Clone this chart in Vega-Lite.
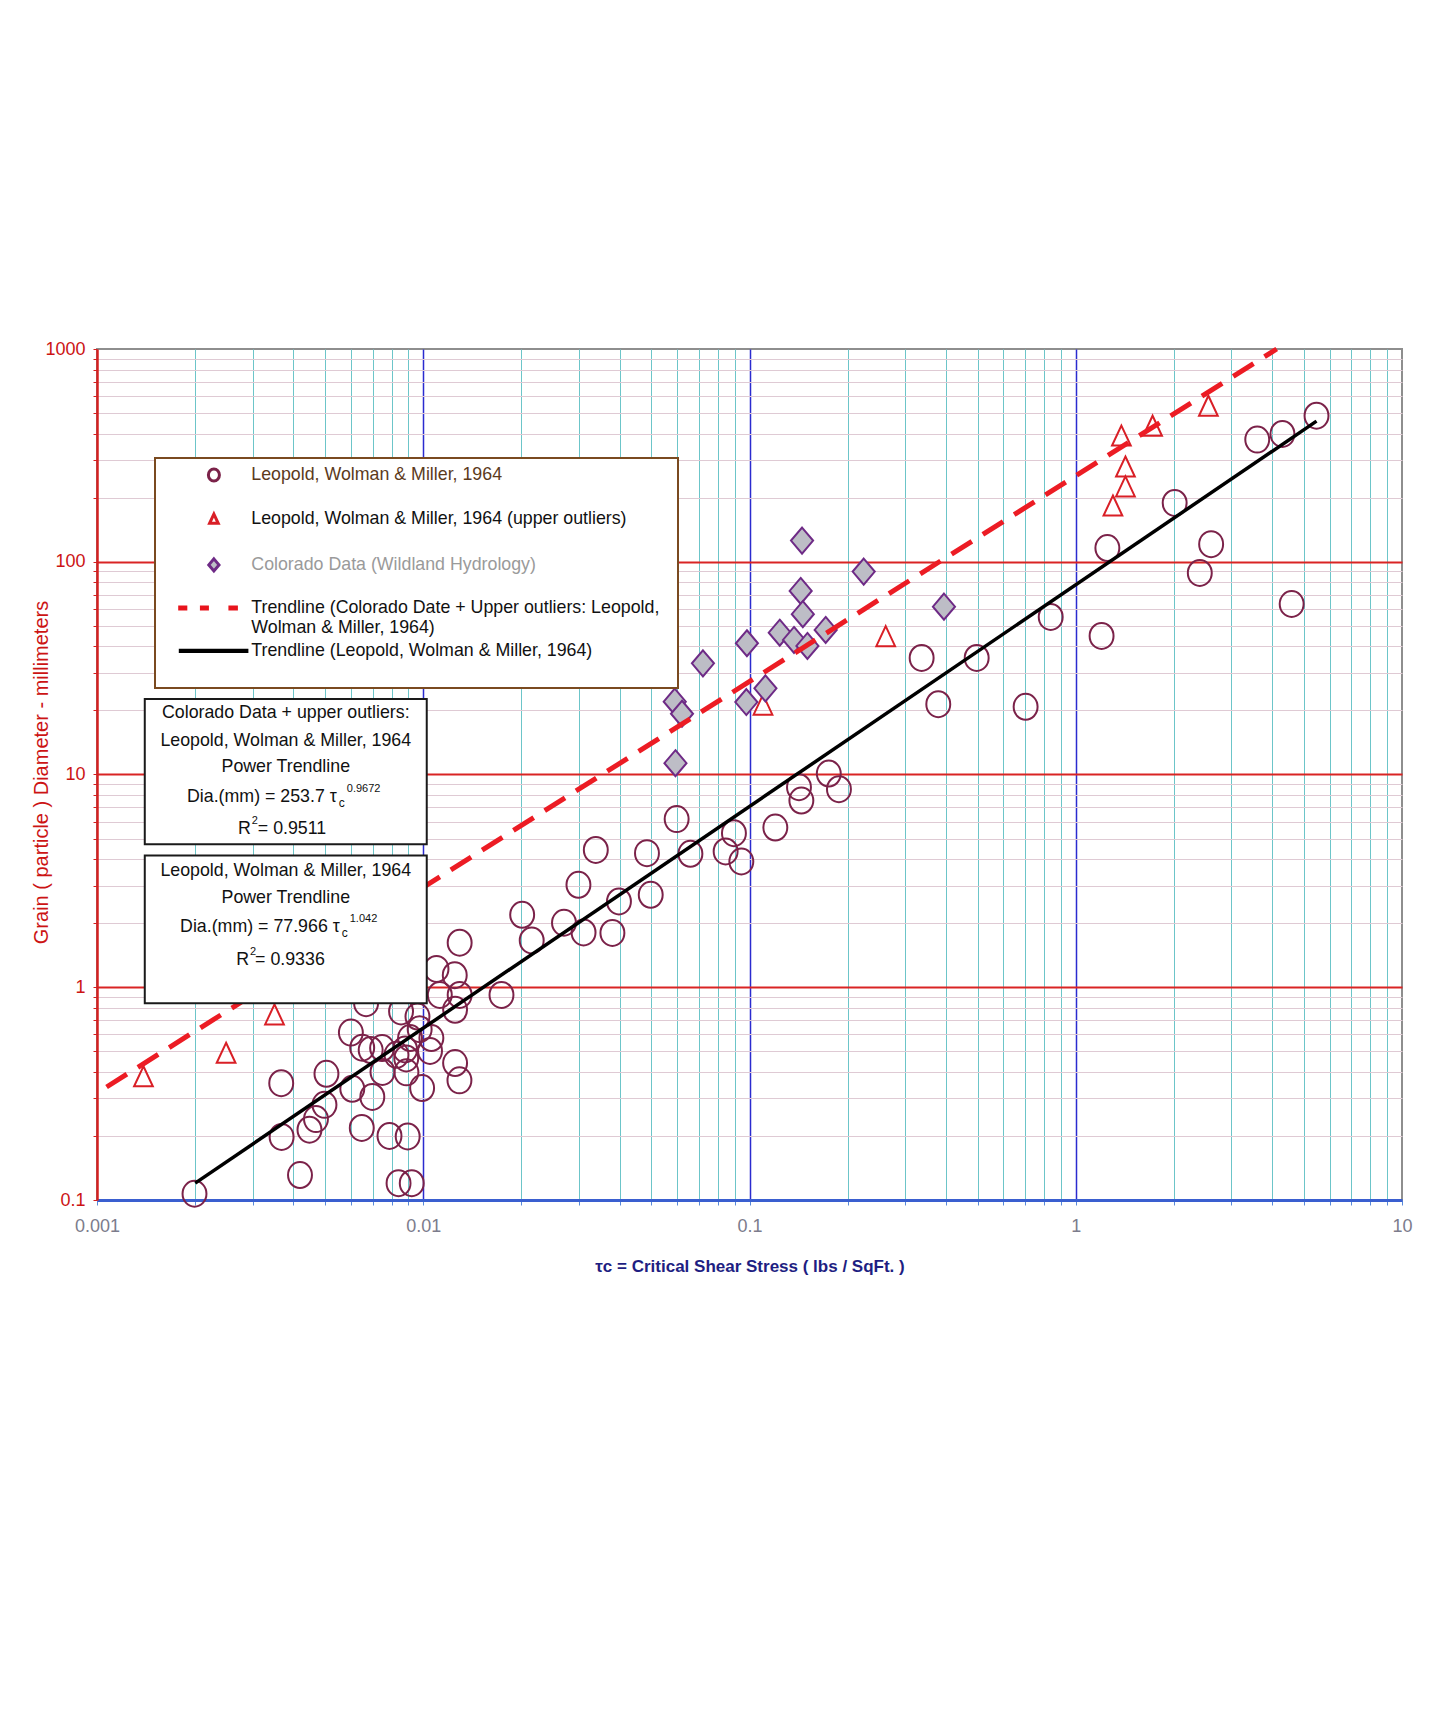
{
  "$schema": "https://vega.github.io/schema/vega-lite/v6.json",
  "width": 1305,
  "height": 851,
  "autosize": {"type": "none"},
  "padding": {"left": 97, "top": 349, "right": 40, "bottom": 531},
  "background": "white",
  "config": {
    "font": "Liberation Sans",
    "view": {"stroke": "#8e8e8e", "strokeWidth": 2},
    "legend": {
      "orient": "none",
      "legendX": 58,
      "legendY": 109,
      "padding": 8,
      "strokeColor": "#7a4a20",
      "strokeWidth": 2,
      "fillColor": "white",
      "symbolSize": 144,
      "symbolStrokeWidth": 3,
      "symbolFillColor": "white",
      "symbolOffset": 42,
      "labelOffset": 28.5,
      "labelFont": "Liberation Sans",
      "labelFontSize": 17.8,
      "labelLimit": 800,
      "rowPadding": 4,
      "titleOrient": "right",
      "titleFontSize": 16,
      "titlePadding": 6,
      "titleColor": "transparent",
      "symbolOpacity": 1
    }
  },
  "layer": [
    {
      "data": {"values": [
        {"series": "Leopold, Wolman & Miller, 1964", "tau": 0.00199, "dia": 0.107},
        {"series": "Leopold, Wolman & Miller, 1964", "tau": 0.00419, "dia": 0.131},
        {"series": "Leopold, Wolman & Miller, 1964", "tau": 0.00368, "dia": 0.198},
        {"series": "Leopold, Wolman & Miller, 1964", "tau": 0.00367, "dia": 0.354},
        {"series": "Leopold, Wolman & Miller, 1964", "tau": 0.00448, "dia": 0.214},
        {"series": "Leopold, Wolman & Miller, 1964", "tau": 0.00469, "dia": 0.240},
        {"series": "Leopold, Wolman & Miller, 1964", "tau": 0.00498, "dia": 0.280},
        {"series": "Leopold, Wolman & Miller, 1964", "tau": 0.00505, "dia": 0.392},
        {"series": "Leopold, Wolman & Miller, 1964", "tau": 0.00606, "dia": 0.333},
        {"series": "Leopold, Wolman & Miller, 1964", "tau": 0.00648, "dia": 0.218},
        {"series": "Leopold, Wolman & Miller, 1964", "tau": 0.00698, "dia": 0.305},
        {"series": "Leopold, Wolman & Miller, 1964", "tau": 0.00600, "dia": 0.612},
        {"series": "Leopold, Wolman & Miller, 1964", "tau": 0.00650, "dia": 0.520},
        {"series": "Leopold, Wolman & Miller, 1964", "tau": 0.00690, "dia": 0.507},
        {"series": "Leopold, Wolman & Miller, 1964", "tau": 0.00748, "dia": 0.518},
        {"series": "Leopold, Wolman & Miller, 1964", "tau": 0.00750, "dia": 0.400},
        {"series": "Leopold, Wolman & Miller, 1964", "tau": 0.00788, "dia": 0.200},
        {"series": "Leopold, Wolman & Miller, 1964", "tau": 0.00896, "dia": 0.199},
        {"series": "Leopold, Wolman & Miller, 1964", "tau": 0.00840, "dia": 0.120},
        {"series": "Leopold, Wolman & Miller, 1964", "tau": 0.00922, "dia": 0.120},
        {"series": "Leopold, Wolman & Miller, 1964", "tau": 0.00888, "dia": 0.398},
        {"series": "Leopold, Wolman & Miller, 1964", "tau": 0.00992, "dia": 0.336},
        {"series": "Leopold, Wolman & Miller, 1964", "tau": 0.01049, "dia": 0.502},
        {"series": "Leopold, Wolman & Miller, 1964", "tau": 0.00880, "dia": 0.510},
        {"series": "Leopold, Wolman & Miller, 1964", "tau": 0.00911, "dia": 0.577},
        {"series": "Leopold, Wolman & Miller, 1964", "tau": 0.00975, "dia": 0.635},
        {"series": "Leopold, Wolman & Miller, 1964", "tau": 0.00960, "dia": 0.728},
        {"series": "Leopold, Wolman & Miller, 1964", "tau": 0.00855, "dia": 0.770},
        {"series": "Leopold, Wolman & Miller, 1964", "tau": 0.00668, "dia": 0.842},
        {"series": "Leopold, Wolman & Miller, 1964", "tau": 0.00828, "dia": 0.481},
        {"series": "Leopold, Wolman & Miller, 1964", "tau": 0.00887, "dia": 0.463},
        {"series": "Leopold, Wolman & Miller, 1964", "tau": 0.01059, "dia": 0.577},
        {"series": "Leopold, Wolman & Miller, 1964", "tau": 0.01252, "dia": 0.440},
        {"series": "Leopold, Wolman & Miller, 1964", "tau": 0.01291, "dia": 0.365},
        {"series": "Leopold, Wolman & Miller, 1964", "tau": 0.01252, "dia": 0.783},
        {"series": "Leopold, Wolman & Miller, 1964", "tau": 0.01293, "dia": 0.920},
        {"series": "Leopold, Wolman & Miller, 1964", "tau": 0.01124, "dia": 0.920},
        {"series": "Leopold, Wolman & Miller, 1964", "tau": 0.01249, "dia": 1.14},
        {"series": "Leopold, Wolman & Miller, 1964", "tau": 0.01098, "dia": 1.22},
        {"series": "Leopold, Wolman & Miller, 1964", "tau": 0.01293, "dia": 1.62},
        {"series": "Leopold, Wolman & Miller, 1964", "tau": 0.01737, "dia": 0.920},
        {"series": "Leopold, Wolman & Miller, 1964", "tau": 0.0201, "dia": 2.19},
        {"series": "Leopold, Wolman & Miller, 1964", "tau": 0.0215, "dia": 1.66},
        {"series": "Leopold, Wolman & Miller, 1964", "tau": 0.0270, "dia": 2.01},
        {"series": "Leopold, Wolman & Miller, 1964", "tau": 0.0299, "dia": 3.03},
        {"series": "Leopold, Wolman & Miller, 1964", "tau": 0.0310, "dia": 1.81},
        {"series": "Leopold, Wolman & Miller, 1964", "tau": 0.0338, "dia": 4.42},
        {"series": "Leopold, Wolman & Miller, 1964", "tau": 0.0380, "dia": 1.80},
        {"series": "Leopold, Wolman & Miller, 1964", "tau": 0.0398, "dia": 2.53},
        {"series": "Leopold, Wolman & Miller, 1964", "tau": 0.0485, "dia": 4.27},
        {"series": "Leopold, Wolman & Miller, 1964", "tau": 0.0498, "dia": 2.72},
        {"series": "Leopold, Wolman & Miller, 1964", "tau": 0.0598, "dia": 6.17},
        {"series": "Leopold, Wolman & Miller, 1964", "tau": 0.0659, "dia": 4.24},
        {"series": "Leopold, Wolman & Miller, 1964", "tau": 0.0845, "dia": 4.35},
        {"series": "Leopold, Wolman & Miller, 1964", "tau": 0.0896, "dia": 5.30},
        {"series": "Leopold, Wolman & Miller, 1964", "tau": 0.0944, "dia": 3.90},
        {"series": "Leopold, Wolman & Miller, 1964", "tau": 0.120, "dia": 5.63},
        {"series": "Leopold, Wolman & Miller, 1964", "tau": 0.1418, "dia": 8.72},
        {"series": "Leopold, Wolman & Miller, 1964", "tau": 0.1442, "dia": 7.54},
        {"series": "Leopold, Wolman & Miller, 1964", "tau": 0.175, "dia": 10.1},
        {"series": "Leopold, Wolman & Miller, 1964", "tau": 0.188, "dia": 8.53},
        {"series": "Leopold, Wolman & Miller, 1964", "tau": 0.337, "dia": 35.3},
        {"series": "Leopold, Wolman & Miller, 1964", "tau": 0.379, "dia": 21.4},
        {"series": "Leopold, Wolman & Miller, 1964", "tau": 0.497, "dia": 35.3},
        {"series": "Leopold, Wolman & Miller, 1964", "tau": 0.702, "dia": 20.8},
        {"series": "Leopold, Wolman & Miller, 1964", "tau": 0.838, "dia": 55.0},
        {"series": "Leopold, Wolman & Miller, 1964", "tau": 1.20, "dia": 44.8},
        {"series": "Leopold, Wolman & Miller, 1964", "tau": 1.25, "dia": 116},
        {"series": "Leopold, Wolman & Miller, 1964", "tau": 2.01, "dia": 189},
        {"series": "Leopold, Wolman & Miller, 1964", "tau": 2.40, "dia": 88.6},
        {"series": "Leopold, Wolman & Miller, 1964", "tau": 2.60, "dia": 121},
        {"series": "Leopold, Wolman & Miller, 1964", "tau": 3.60, "dia": 375},
        {"series": "Leopold, Wolman & Miller, 1964", "tau": 4.30, "dia": 399},
        {"series": "Leopold, Wolman & Miller, 1964", "tau": 5.47, "dia": 486},
        {"series": "Leopold, Wolman & Miller, 1964", "tau": 4.59, "dia": 63.3},
        {"series": "Leopold, Wolman & Miller, 1964 (upper outliers)", "tau": 0.001388, "dia": 0.380},
        {"series": "Leopold, Wolman & Miller, 1964 (upper outliers)", "tau": 0.002487, "dia": 0.490},
        {"series": "Leopold, Wolman & Miller, 1964 (upper outliers)", "tau": 0.00350, "dia": 0.742},
        {"series": "Leopold, Wolman & Miller, 1964 (upper outliers)", "tau": 0.110, "dia": 21.2},
        {"series": "Leopold, Wolman & Miller, 1964 (upper outliers)", "tau": 0.2615, "dia": 44.5},
        {"series": "Leopold, Wolman & Miller, 1964 (upper outliers)", "tau": 1.30, "dia": 183},
        {"series": "Leopold, Wolman & Miller, 1964 (upper outliers)", "tau": 1.42, "dia": 225},
        {"series": "Leopold, Wolman & Miller, 1964 (upper outliers)", "tau": 1.42, "dia": 279},
        {"series": "Leopold, Wolman & Miller, 1964 (upper outliers)", "tau": 1.38, "dia": 390},
        {"series": "Leopold, Wolman & Miller, 1964 (upper outliers)", "tau": 1.72, "dia": 434},
        {"series": "Leopold, Wolman & Miller, 1964 (upper outliers)", "tau": 2.55, "dia": 539},
        {"series": "Colorado Data (Wildland Hydrology)", "tau": 0.1449, "dia": 125.7},
        {"series": "Colorado Data (Wildland Hydrology)", "tau": 0.2239, "dia": 89.9},
        {"series": "Colorado Data (Wildland Hydrology)", "tau": 0.3945, "dia": 61.5},
        {"series": "Colorado Data (Wildland Hydrology)", "tau": 0.1435, "dia": 72.9},
        {"series": "Colorado Data (Wildland Hydrology)", "tau": 0.1457, "dia": 56.7},
        {"series": "Colorado Data (Wildland Hydrology)", "tau": 0.1238, "dia": 46.4},
        {"series": "Colorado Data (Wildland Hydrology)", "tau": 0.1369, "dia": 42.9},
        {"series": "Colorado Data (Wildland Hydrology)", "tau": 0.1505, "dia": 40.2},
        {"series": "Colorado Data (Wildland Hydrology)", "tau": 0.1712, "dia": 47.8},
        {"series": "Colorado Data (Wildland Hydrology)", "tau": 0.0982, "dia": 41.4},
        {"series": "Colorado Data (Wildland Hydrology)", "tau": 0.0720, "dia": 33.3},
        {"series": "Colorado Data (Wildland Hydrology)", "tau": 0.1119, "dia": 25.4},
        {"series": "Colorado Data (Wildland Hydrology)", "tau": 0.0978, "dia": 21.9},
        {"series": "Colorado Data (Wildland Hydrology)", "tau": 0.0590, "dia": 22.0},
        {"series": "Colorado Data (Wildland Hydrology)", "tau": 0.0621, "dia": 19.3},
        {"series": "Colorado Data (Wildland Hydrology)", "tau": 0.0593, "dia": 11.3}
      ]},
      "mark": {"type": "point", "size": 676, "strokeWidth": 2, "opacity": 1},
      "encoding": {
        "x": {
          "field": "tau", "type": "quantitative",
          "scale": {"type": "log", "domain": [0.001, 10], "nice": false},
          "axis": {
            "values": [0.001,0.002,0.003,0.004,0.005,0.006,0.007,0.008,0.009,0.01,0.02,0.03,0.04,0.05,0.06,0.07,0.08,0.09,0.1,0.2,0.3,0.4,0.5,0.6,0.7,0.8,0.9,1,2,3,4,5,6,7,8,9,10],
            "grid": true,
            "gridColor": {"condition": [
              {"test": "datum.value == 0.001 || datum.value == 10", "value": "transparent"},
              {"test": "datum.value == 0.01 || datum.value == 0.1 || datum.value == 1", "value": "#2b2bcf"}
            ], "value": "#6cc5c9"},
            "gridWidth": {"condition": {"test": "datum.value == 0.01 || datum.value == 0.1 || datum.value == 1", "value": 1.5}, "value": 1},
            "domainColor": "#3a5fd0", "domainWidth": 3,
            "tickColor": "#5a8ad8", "tickSize": 5, "tickWidth": 1,
            "format": "~g",
            "labelExpr": "(datum.value == 0.001 || datum.value == 0.01 || datum.value == 0.1 || datum.value == 1 || datum.value == 10) ? datum.label : ''",
            "labelOverlap": false, "labelFlush": false,
            "labelColor": "#7c7c8c", "labelFont": "Liberation Sans", "labelFontSize": 18, "labelPadding": 12,
            "title": "τc = Critical Shear Stress ( lbs / SqFt. )",
            "titleColor": "#1e1e82", "titleFont": "Liberation Sans", "titleFontSize": 17, "titleFontWeight": "bold", "titlePadding": 23
          }
        },
        "y": {
          "field": "dia", "type": "quantitative",
          "scale": {"type": "log", "domain": [0.1, 1000], "nice": false},
          "axis": {
            "values": [0.1,0.2,0.3,0.4,0.5,0.6,0.7,0.8,0.9,1,2,3,4,5,6,7,8,9,10,20,30,40,50,60,70,80,90,100,200,300,400,500,600,700,800,900,1000],
            "grid": true,
            "gridColor": {"condition": [
              {"test": "datum.value == 0.1 || datum.value == 1000", "value": "transparent"},
              {"test": "datum.value == 1 || datum.value == 10 || datum.value == 100", "value": "#d92424"}
            ], "value": "#dfcad4"},
            "gridWidth": {"condition": {"test": "datum.value == 1 || datum.value == 10 || datum.value == 100", "value": 2}, "value": 1},
            "domainColor": "#d42020", "domainWidth": 2.5,
            "tickColor": "#d42020", "tickSize": 4, "tickWidth": 1,
            "format": "~g",
            "labelExpr": "(datum.value == 0.1 || datum.value == 1 || datum.value == 10 || datum.value == 100 || datum.value == 1000) ? datum.label : ''",
            "labelOverlap": false, "labelFlush": false,
            "labelColor": "#cc1414", "labelFont": "Liberation Sans", "labelFontSize": 18, "labelPadding": 8,
            "title": "Grain ( particle ) Diameter - millimeters",
            "titleColor": "#cc1414", "titleFont": "Liberation Sans", "titleFontSize": 20, "titleFontWeight": "normal",
            "titleX": -56, "titleY": 423, "titleAngle": 270, "titleBaseline": "middle", "titleAlign": "center"
          }
        },
        "color": {
          "field": "series", "type": "nominal",
          "scale": {
            "domain": ["Leopold, Wolman & Miller, 1964", "Leopold, Wolman & Miller, 1964 (upper outliers)", "Colorado Data (Wildland Hydrology)", "Trendline (Colorado Date + Upper outliers: Leopold, Wolman & Miller, 1964)", "Trendline (Leopold, Wolman & Miller, 1964)"],
            "range": ["#7b2249", "#d91f26", "#6e2a86", "#e8141c", "#000000"]
          },
          "legend": {
            "title": ".",
            "labelColor": {"expr": "datum.value == 'Leopold, Wolman & Miller, 1964' ? '#5c3a1c' : datum.value == 'Colorado Data (Wildland Hydrology)' ? '#9a9a9a' : '#111111'"},
            "labelExpr": "indexof(datum.label, 'Upper outliers') >= 0 ? ['Trendline (Colorado Date + Upper outliers: Leopold,', 'Wolman & Miller, 1964)'] : [datum.label, '']"
          }
        },
        "shape": {
          "field": "series", "type": "nominal",
          "scale": {
            "domain": ["Leopold, Wolman & Miller, 1964", "Leopold, Wolman & Miller, 1964 (upper outliers)", "Colorado Data (Wildland Hydrology)", "Trendline (Colorado Date + Upper outliers: Leopold, Wolman & Miller, 1964)", "Trendline (Leopold, Wolman & Miller, 1964)"],
            "range": [
              "M-0.92,0A0.92,1 0 1,0 0.92,0A0.92,1 0 1,0 -0.92,0Z",
              "M0,-0.8L0.72,0.74L-0.72,0.74Z",
              "M0,-1L0.85,0L0,1L-0.85,0Z",
              "M-5.7,-0.17H-4.68V0.17H-5.7ZM-2.08,-0.17H-1.08V0.17H-2.08ZM2.67,-0.17H3.75V0.17H2.67Z",
              "M-5.6,-0.1H5.5V0.1H-5.6Z"
            ]
          },
          "legend": {
            "title": ".",
            "labelColor": {"expr": "datum.value == 'Leopold, Wolman & Miller, 1964' ? '#5c3a1c' : datum.value == 'Colorado Data (Wildland Hydrology)' ? '#9a9a9a' : '#111111'"},
            "labelExpr": "indexof(datum.label, 'Upper outliers') >= 0 ? ['Trendline (Colorado Date + Upper outliers: Leopold,', 'Wolman & Miller, 1964)'] : [datum.label, '']"
          }
        },
        "fill": {
          "field": "series", "type": "nominal",
          "scale": {
            "domain": ["Leopold, Wolman & Miller, 1964", "Leopold, Wolman & Miller, 1964 (upper outliers)", "Colorado Data (Wildland Hydrology)", "Trendline (Colorado Date + Upper outliers: Leopold, Wolman & Miller, 1964)", "Trendline (Leopold, Wolman & Miller, 1964)"],
            "range": ["transparent", "transparent", "#bdbdc6", "transparent", "transparent"]
          },
          "legend": null
        }
      }
    },
    {
      "data": {"values": [{"tau": 0.00107, "dia": 0.3397}, {"tau": 4.13, "dia": 1000}]},
      "mark": {"type": "line", "color": "#ec1c24", "strokeWidth": 5, "strokeDash": [24, 13]},
      "encoding": {"x": {"field": "tau", "type": "quantitative"}, "y": {"field": "dia", "type": "quantitative"}}
    },
    {
      "data": {"values": [{"tau": 0.002, "dia": 0.1201}, {"tau": 5.47, "dia": 458}]},
      "mark": {"type": "line", "color": "#000000", "strokeWidth": 3.5},
      "encoding": {"x": {"field": "tau", "type": "quantitative"}, "y": {"field": "dia", "type": "quantitative"}}
    },
    {
      "data": {"values": [{}]},
      "mark": {"type": "rect", "fill": "white", "stroke": "#1a1a1a", "strokeWidth": 2},
      "encoding": {"x": {"datum": 0.001401}, "x2": {"datum": 0.01025}, "y": {"datum": 22.66}, "y2": {"datum": 4.704}}
    },
    {
      "data": {"values": [{}]},
      "mark": {"type": "text", "text": "Colorado Data + upper outliers:", "fontSize": 17.8, "align": "center", "baseline": "middle", "color": "#111111"},
      "encoding": {"x": {"datum": 0.00379}, "y": {"datum": 19.54}}
    },
    {
      "data": {"values": [{}]},
      "mark": {"type": "text", "text": "Leopold, Wolman & Miller, 1964", "fontSize": 17.8, "align": "center", "baseline": "middle", "color": "#111111"},
      "encoding": {"x": {"datum": 0.00379}, "y": {"datum": 14.43}}
    },
    {
      "data": {"values": [{}]},
      "mark": {"type": "text", "text": "Power Trendline", "fontSize": 17.8, "align": "center", "baseline": "middle", "color": "#111111"},
      "encoding": {"x": {"datum": 0.00379}, "y": {"datum": 10.89}}
    },
    {
      "data": {"values": [{}]},
      "mark": {"type": "text", "text": "Dia.(mm) = 253.7 τ", "fontSize": 17.8, "align": "right", "baseline": "middle", "color": "#111111"},
      "encoding": {"x": {"datum": 0.005432}, "y": {"datum": 7.87}}
    },
    {
      "data": {"values": [{}]},
      "mark": {"type": "text", "text": "c", "fontSize": 12, "align": "left", "baseline": "middle", "dx": 2, "dy": 6, "color": "#111111"},
      "encoding": {"x": {"datum": 0.005432}, "y": {"datum": 7.87}}
    },
    {
      "data": {"values": [{}]},
      "mark": {"type": "text", "text": "0.9672", "fontSize": 11, "align": "left", "baseline": "middle", "dx": 10, "dy": -8, "color": "#111111"},
      "encoding": {"x": {"datum": 0.005432}, "y": {"datum": 7.87}}
    },
    {
      "data": {"values": [{}]},
      "mark": {"type": "text", "text": "R", "fontSize": 17.8, "align": "right", "baseline": "middle", "color": "#111111"},
      "encoding": {"x": {"datum": 0.002961}, "y": {"datum": 5.53}}
    },
    {
      "data": {"values": [{}]},
      "mark": {"type": "text", "text": "2", "fontSize": 11, "align": "left", "baseline": "middle", "dx": 1, "dy": -8, "color": "#111111"},
      "encoding": {"x": {"datum": 0.002961}, "y": {"datum": 5.53}}
    },
    {
      "data": {"values": [{}]},
      "mark": {"type": "text", "text": "= 0.9511", "fontSize": 17.8, "align": "left", "baseline": "middle", "dx": 7, "color": "#111111"},
      "encoding": {"x": {"datum": 0.002961}, "y": {"datum": 5.53}}
    },
    {
      "data": {"values": [{}]},
      "mark": {"type": "rect", "fill": "white", "stroke": "#1a1a1a", "strokeWidth": 2},
      "encoding": {"x": {"datum": 0.001401}, "x2": {"datum": 0.01025}, "y": {"datum": 4.157}, "y2": {"datum": 0.8419}}
    },
    {
      "data": {"values": [{}]},
      "mark": {"type": "text", "text": "Leopold, Wolman & Miller, 1964", "fontSize": 17.8, "align": "center", "baseline": "middle", "color": "#111111"},
      "encoding": {"x": {"datum": 0.00379}, "y": {"datum": 3.50}}
    },
    {
      "data": {"values": [{}]},
      "mark": {"type": "text", "text": "Power Trendline", "fontSize": 17.8, "align": "center", "baseline": "middle", "color": "#111111"},
      "encoding": {"x": {"datum": 0.00379}, "y": {"datum": 2.62}}
    },
    {
      "data": {"values": [{}]},
      "mark": {"type": "text", "text": "Dia.(mm) = 77.966 τ", "fontSize": 17.8, "align": "right", "baseline": "middle", "color": "#111111"},
      "encoding": {"x": {"datum": 0.005547}, "y": {"datum": 1.916}}
    },
    {
      "data": {"values": [{}]},
      "mark": {"type": "text", "text": "c", "fontSize": 12, "align": "left", "baseline": "middle", "dx": 2, "dy": 6, "color": "#111111"},
      "encoding": {"x": {"datum": 0.005547}, "y": {"datum": 1.916}}
    },
    {
      "data": {"values": [{}]},
      "mark": {"type": "text", "text": "1.042", "fontSize": 11, "align": "left", "baseline": "middle", "dx": 10, "dy": -8, "color": "#111111"},
      "encoding": {"x": {"datum": 0.005547}, "y": {"datum": 1.916}}
    },
    {
      "data": {"values": [{}]},
      "mark": {"type": "text", "text": "R", "fontSize": 17.8, "align": "right", "baseline": "middle", "color": "#111111"},
      "encoding": {"x": {"datum": 0.002925}, "y": {"datum": 1.345}}
    },
    {
      "data": {"values": [{}]},
      "mark": {"type": "text", "text": "2", "fontSize": 11, "align": "left", "baseline": "middle", "dx": 1, "dy": -8, "color": "#111111"},
      "encoding": {"x": {"datum": 0.002925}, "y": {"datum": 1.345}}
    },
    {
      "data": {"values": [{}]},
      "mark": {"type": "text", "text": "= 0.9336", "fontSize": 17.8, "align": "left", "baseline": "middle", "dx": 6, "color": "#111111"},
      "encoding": {"x": {"datum": 0.002925}, "y": {"datum": 1.345}}
    }
  ]
}
